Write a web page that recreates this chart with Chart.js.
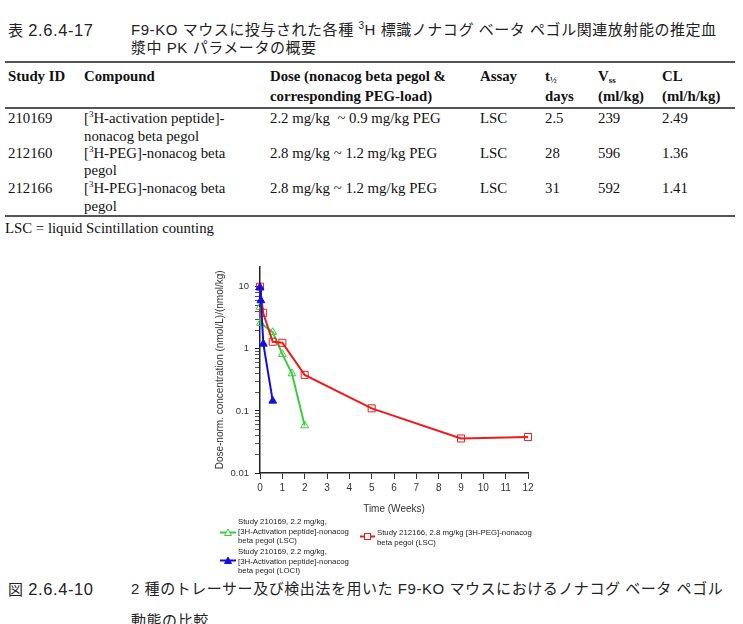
<!DOCTYPE html>
<html>
<head>
<meta charset="utf-8">
<script src="https://cdn.jsdelivr.net/npm/chart.js@4/dist/chart.umd.min.js"></script>
<style>
  body { margin: 0; width: 743px; height: 624px; overflow: hidden; background: #fff; position: relative; }
  .jp { position: absolute; font-family: "Liberation Sans", "Noto Sans CJK JP"; font-size: 15px; line-height: 18px; color: #222; white-space: nowrap; letter-spacing: 0.55px; }
  .num { font-size: 16.5px; letter-spacing: 0.6px; }
  .t { position: absolute; font-family: "Liberation Serif"; font-size: 14.8px; line-height: 17px; color: #111; white-space: nowrap; }
  .b { font-weight: bold; }
  .rule { position: absolute; left: 5px; width: 730px; height: 2px; background: #555; }
  sup.s { font-size: 9px; vertical-align: 6px; line-height: 0; }
  sub.s { font-size: 9px; vertical-align: -2px; line-height: 0; }
  .lg { position: absolute; font-family: "Liberation Sans"; font-size: 7.8px; line-height: 9.7px; color: #222; white-space: nowrap; }
  .mk { position: absolute; }
</style>
</head>
<body>

<div class="jp" style="left:8px; top:21px;">表 <span class="num">2.6.4-17</span></div>
<div class="jp" style="left:131px; top:21px;">F9-KO マウスに投与された各種 <sup class="s" style="font-size:10px;vertical-align:6px;">3</sup>H 標識ノナコグ ベータ ペゴル関連放射能の推定血</div>
<div class="jp" style="left:131px; top:39px;">漿中 PK パラメータの概要</div>

<div class="rule" style="top:61px;"></div>
<div class="t b" style="left:8px; top:68px;">Study ID</div>
<div class="t b" style="left:84px; top:68px;">Compound</div>
<div class="t b" style="left:270px; top:68px;">Dose (nonacog beta pegol &amp;</div>
<div class="t b" style="left:270px; top:88px;">corresponding PEG-load)</div>
<div class="t b" style="left:480px; top:68px;">Assay</div>
<div class="t b" style="left:545px; top:68px;">t<sub class="s">½</sub></div>
<div class="t b" style="left:545px; top:88px;">days</div>
<div class="t b" style="left:598px; top:68px;">V<sub class="s">ss</sub></div>
<div class="t b" style="left:598px; top:88px;">(ml/kg)</div>
<div class="t b" style="left:662px; top:68px;">CL</div>
<div class="t b" style="left:662px; top:88px;">(ml/h/kg)</div>
<div class="rule" style="top:107px;"></div>

<div class="t" style="left:8px; top:110px;">210169</div>
<div class="t" style="left:84px; top:110px;">[<sup class="s">3</sup>H-activation peptide]-</div>
<div class="t" style="left:84px; top:128px;">nonacog beta pegol</div>
<div class="t" style="left:270px; top:110px;">2.2 mg/kg &nbsp;~ 0.9 mg/kg PEG</div>
<div class="t" style="left:480px; top:110px;">LSC</div>
<div class="t" style="left:545px; top:110px;">2.5</div>
<div class="t" style="left:598px; top:110px;">239</div>
<div class="t" style="left:662px; top:110px;">2.49</div>

<div class="t" style="left:8px; top:145px;">212160</div>
<div class="t" style="left:84px; top:145px;">[<sup class="s">3</sup>H-PEG]-nonacog beta</div>
<div class="t" style="left:84px; top:162px;">pegol</div>
<div class="t" style="left:270px; top:145px;">2.8 mg/kg ~ 1.2 mg/kg PEG</div>
<div class="t" style="left:480px; top:145px;">LSC</div>
<div class="t" style="left:545px; top:145px;">28</div>
<div class="t" style="left:598px; top:145px;">596</div>
<div class="t" style="left:662px; top:145px;">1.36</div>

<div class="t" style="left:8px; top:180px;">212166</div>
<div class="t" style="left:84px; top:180px;">[<sup class="s">3</sup>H-PEG]-nonacog beta</div>
<div class="t" style="left:84px; top:198px;">pegol</div>
<div class="t" style="left:270px; top:180px;">2.8 mg/kg ~ 1.2 mg/kg PEG</div>
<div class="t" style="left:480px; top:180px;">LSC</div>
<div class="t" style="left:545px; top:180px;">31</div>
<div class="t" style="left:598px; top:180px;">592</div>
<div class="t" style="left:662px; top:180px;">1.41</div>
<div class="rule" style="top:215px;"></div>
<div class="t" style="left:5px; top:220px;">LSC = liquid Scintillation counting</div>

<div style="position:absolute; left:200px; top:255px; width:345px; height:265px;">
  <canvas id="pkChart" width="345" height="265"></canvas>
</div>

<!-- legend -->
<svg class="mk" style="left:220px; top:528px;" width="16" height="9">
  <line x1="0" y1="4.5" x2="16" y2="4.5" stroke="#3ccc3c" stroke-width="2"/>
  <polygon points="8,1 11.5,7.5 4.5,7.5" fill="#fff" stroke="#3ccc3c" stroke-width="1"/>
</svg>
<div class="lg" style="left:238px; top:517px;">Study 210169, 2.2 mg/kg,<br>[3H-Activation peptide]-nonacog<br>beta pegol (LSC)</div>
<svg class="mk" style="left:220px; top:556px;" width="16" height="9">
  <line x1="0" y1="4.5" x2="16" y2="4.5" stroke="#1010e0" stroke-width="2"/>
  <polygon points="8,1 11.5,7.5 4.5,7.5" fill="#1010e0" stroke="#1010e0" stroke-width="1"/>
</svg>
<div class="lg" style="left:238px; top:547px;">Study 210169, 2.2 mg/kg,<br>[3H-Activation peptide]-nonacog<br>beta pegol (LOCI)</div>
<svg class="mk" style="left:360px; top:532px;" width="15" height="9">
  <line x1="0" y1="4.5" x2="15" y2="4.5" stroke="#f01a1a" stroke-width="2"/>
  <rect x="4.5" y="1.5" width="6" height="6" fill="#fff" stroke="#f01a1a" stroke-width="1"/>
</svg>
<div class="lg" style="left:377px; top:528px;">Study 212166, 2.8 mg/kg [3H-PEG]-nonacog<br>beta pegol (LSC)</div>

<div class="jp" style="left:8px; top:580px;">図 <span class="num">2.6.4-10</span></div>
<div class="jp" style="left:131px; top:580px;">2 種のトレーサー及び検出法を用いた F9-KO マウスにおけるノナコグ ベータ ペゴル</div>
<div class="jp" style="left:131px; top:612px;">動態の比較</div>

<script>
// Study 210169, [3H-activation peptide], LSC
const weeksLSC = [0, 0.02, 0.57, 1.0, 1.43, 2.0];
const concLSC = [4.7, 2.6, 1.85, 0.82, 0.40, 0.058];

// Study 210169, [3H-activation peptide], LOCI
const weeksLOCI = [0, 0.04, 0.15, 0.57];
const concLOCI = [9.8, 6.0, 1.2, 0.145];

// Study 212166, [3H-PEG], LSC
const weeksPEG = [0, 0.14, 0.57, 1.0, 2.0, 5.0, 9.0, 12.0];
const concPEG = [10, 3.8, 1.3, 1.25, 0.38, 0.11, 0.036, 0.038];

const yMajorTicks = [0.01, 0.1, 1, 10];
const xTicks = [0, 1, 2, 3, 4, 5, 6, 7, 8, 9, 10, 11, 12];

// minor ticks 2..9 in every decade below 10
const yAllTicks = [];
yMajorTicks.forEach(d => {
    yAllTicks.push(d);
    if (d < 10) {
        for (let m = 2; m <= 9; m++) yAllTicks.push(+(m * d).toPrecision(3));
    }
});

function toPoints(xs, ys) {
    return xs.map((x, i) => ({ x: x, y: ys[i] }));
}

Chart.defaults.font.family = "Liberation Sans";
Chart.defaults.color = "#333";

const ctx = document.getElementById("pkChart").getContext("2d");

new Chart(ctx, {
    type: "line",
    data: {
        datasets: [
            {
                label: "Study 210169, 2.2 mg/kg, [3H-Activation peptide]-nonacog beta pegol (LOCI)",
                data: toPoints(weeksLOCI, concLOCI),
                borderColor: "#1010e0",
                backgroundColor: "#1010e0",
                pointStyle: "triangle",
                pointRadius: 4.5,
                pointBorderWidth: 1,
                borderWidth: 2,
                order: 0,
                clip: false
            },
            {
                label: "Study 212166, 2.8 mg/kg [3H-PEG]-nonacog beta pegol (LSC)",
                data: toPoints(weeksPEG, concPEG),
                borderColor: "#f01a1a",
                pointBackgroundColor: "rgba(255,255,255,0)",
                pointStyle: "rect",
                pointRadius: 5,
                pointBorderWidth: 1,
                borderWidth: 2,
                order: 1,
                clip: false
            },
            {
                label: "Study 210169, 2.2 mg/kg, [3H-Activation peptide]-nonacog beta pegol (LSC)",
                data: toPoints(weeksLSC, concLSC),
                borderColor: "#3ccc3c",
                pointBackgroundColor: "rgba(255,255,255,0)",
                pointStyle: "triangle",
                pointRadius: 4.5,
                pointBorderWidth: 1,
                borderWidth: 2,
                order: 2,
                clip: false
            }
        ]
    },
    options: {
        responsive: false,
        animation: false,
        devicePixelRatio: 1,
        layout: { padding: { left: 0, top: 8, right: 17, bottom: 0 } },
        plugins: {
            legend: { display: false },
            tooltip: { enabled: false }
        },
        scales: {
            x: {
                type: "linear",
                min: 0,
                max: 12,
                afterBuildTicks: axis => { axis.ticks = xTicks.map(v => ({ value: v })); },
                afterFit: axis => { axis.height = 47; },
                ticks: { autoSkip: false, maxRotation: 0, padding: 3, font: { size: 10 }, color: "#333" },
                grid: { drawOnChartArea: false, drawTicks: true, tickLength: 6, tickColor: "#333" },
                border: { display: true, color: "#222", width: 1.5 },
                title: { display: true, text: "Time (Weeks)", font: { size: 10 }, color: "#333", padding: { top: 0, bottom: 5 } }
            },
            y: {
                type: "logarithmic",
                min: 0.01,
                max: 21,
                afterBuildTicks: axis => {
                    axis.ticks = yAllTicks.map(v => ({ value: v, major: yMajorTicks.includes(v) }));
                },
                afterFit: axis => { axis.width = 60; },
                ticks: {
                    autoSkip: false,
                    padding: 6,
                    font: { size: 9.5 },
                    color: "#333",
                    callback: value => yMajorTicks.includes(value) ? String(value) : ""
                },
                grid: {
                    drawOnChartArea: false,
                    drawTicks: true,
                    tickLength: 5,
                    tickColor: c => (c.tick && c.tick.major) ? "#222" : "#555"
                },
                border: { display: true, color: "#222", width: 1.5 },
                title: {
                    display: true,
                    text: "Dose-norm. concentration (nmol/L)/(nmol/kg)",
                    font: { size: 10 },
                    color: "#333",
                    padding: { top: 14, bottom: 0 }
                }
            }
        }
    }
});
</script>
</body>
</html>
